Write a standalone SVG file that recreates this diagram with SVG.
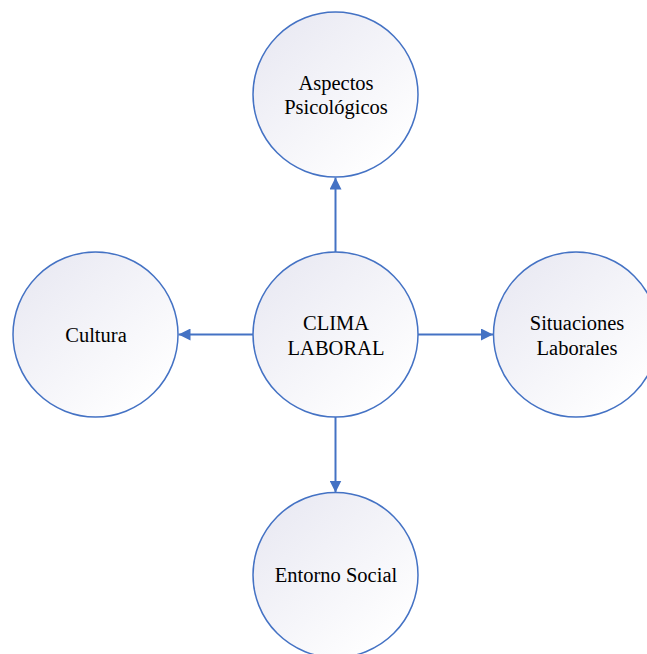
<svg xmlns="http://www.w3.org/2000/svg" width="647" height="654" viewBox="0 0 647 654">
<defs>
<linearGradient id="g" x1="0.15" y1="0.1" x2="0.85" y2="0.9">
<stop offset="0" stop-color="#EAEAF3"/>
<stop offset="1" stop-color="#FFFFFF"/>
</linearGradient>
<marker id="arr" viewBox="0 0 12 12" refX="12" refY="6" markerWidth="12" markerHeight="12" markerUnits="userSpaceOnUse" orient="auto">
<path d="M0,0 L12,6 L0,12 Z" fill="#4472C4"/>
</marker>
<style>
.node{fill:url(#g);stroke:#4472C4;stroke-width:1.5}
.lbl{font-family:"Liberation Serif","Times New Roman",serif;font-size:20.5px;fill:#000;text-anchor:middle}
.conn{stroke:#4472C4;stroke-width:2;fill:none;marker-end:url(#arr)}
</style>
</defs>
<rect width="647" height="654" fill="#FFFFFF"/>
<g id="connectors">
<line class="conn" x1="335.5" y1="252" x2="335.5" y2="177.5"/>
<line class="conn" x1="253" y1="334.5" x2="178.5" y2="334.5"/>
<line class="conn" x1="418" y1="334.5" x2="493" y2="334.5"/>
<line class="conn" x1="335.5" y1="417" x2="335.5" y2="492.5"/>
</g>
<g id="aspectos">
<circle class="node" cx="335.5" cy="94.5" r="82.5"/>
<text class="lbl" x="336" y="89.5">Aspectos</text>
<text class="lbl" x="336" y="114">Psicológicos</text>
</g>
<g id="clima">
<circle class="node" cx="335.5" cy="334.5" r="82.5"/>
<text class="lbl" x="336" y="329.5">CLIMA</text>
<text class="lbl" x="336" y="354.5">LABORAL</text>
</g>
<g id="cultura">
<circle class="node" cx="95.5" cy="334.5" r="82.5"/>
<text class="lbl" x="96" y="341.5">Cultura</text>
</g>
<g id="situaciones">
<circle class="node" cx="576" cy="334.5" r="82.5"/>
<text class="lbl" x="577" y="329.5">Situaciones</text>
<text class="lbl" x="577" y="354.5">Laborales</text>
</g>
<g id="entorno">
<circle class="node" cx="335.5" cy="575" r="82.5"/>
<text class="lbl" x="336" y="581.5">Entorno Social</text>
</g>
</svg>
